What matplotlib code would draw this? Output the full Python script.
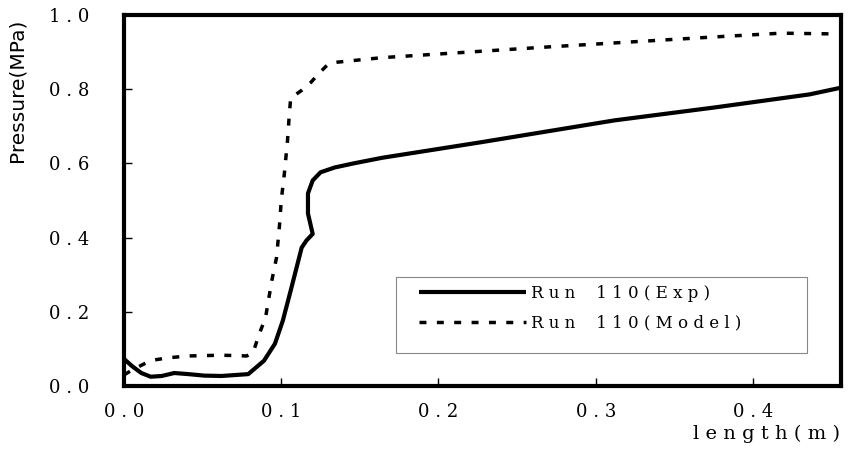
import matplotlib
matplotlib.use("Agg")
import matplotlib.pyplot as plt
from matplotlib.patches import Rectangle
from matplotlib.ticker import FixedLocator, FuncFormatter

# Run 110, experimental pressure along the length
exp_x = [0.000, 0.005, 0.011, 0.017, 0.024, 0.032, 0.041, 0.051, 0.062, 0.079,
         0.089, 0.096, 0.101, 0.106, 0.113, 0.116, 0.120, 0.117, 0.117, 0.120,
         0.125, 0.134, 0.146, 0.164, 0.227, 0.312, 0.376, 0.436, 0.457]
exp_y = [0.073, 0.054, 0.035, 0.025, 0.027, 0.035, 0.032, 0.028, 0.027, 0.032,
         0.068, 0.114, 0.176, 0.257, 0.373, 0.392, 0.410, 0.465, 0.519, 0.554,
         0.576, 0.589, 0.600, 0.615, 0.657, 0.716, 0.751, 0.786, 0.805]

# Run 110, model
mod_x = [0.000, 0.006, 0.013, 0.019, 0.028, 0.041, 0.062, 0.078, 0.082, 0.086,
         0.090, 0.094, 0.097, 0.099, 0.100, 0.102, 0.104, 0.105, 0.106, 0.113,
         0.119, 0.124, 0.130, 0.136, 0.164, 0.270, 0.376, 0.418, 0.452]
mod_y = [0.030, 0.045, 0.060, 0.070, 0.076, 0.081, 0.083, 0.081, 0.089, 0.140,
         0.184, 0.284, 0.346, 0.438, 0.500, 0.573, 0.662, 0.724, 0.776, 0.797,
         0.819, 0.843, 0.868, 0.873, 0.885, 0.914, 0.941, 0.951, 0.949]

x_ticks = [0.0, 0.1, 0.2, 0.3, 0.4]
y_ticks = [0.0, 0.2, 0.4, 0.6, 0.8, 1.0]
series_names = ["Run 110(Exp)", "Run 110(Model)"]

def spaced(v, pos=None):
    return " ".join("%.1f" % v)

def wide(s):
    # letter-spaced text, like the fixed-pitch font of the original
    words = [" ".join(w) for w in s.split(" ")]
    return "    ".join(words)

fig = plt.figure(figsize=(8.52, 4.54), dpi=100)
ax = fig.add_axes([124 / 852, 1 - 386 / 454, 717 / 852, 371 / 454])

ax.plot(exp_x, exp_y, color="black", lw=3.0, solid_capstyle="butt",
        label=wide(series_names[0]))
ax.plot(mod_x, mod_y, color="black", lw=2.5, linestyle=(0, (2, 3)),
        label=wide(series_names[1]))

ax.set_xlim(0, 0.456)
ax.set_ylim(0, 1.0)

ax.xaxis.set_major_locator(FixedLocator(x_ticks))
ax.yaxis.set_major_locator(FixedLocator(y_ticks))
ax.xaxis.set_major_formatter(FuncFormatter(spaced))
ax.yaxis.set_major_formatter(FuncFormatter(spaced))
ax.tick_params(axis="both", direction="in", length=6, width=1, color="black",
               labelsize=13, labelfontfamily="DejaVu Serif")
ax.tick_params(axis="y", pad=25)
ax.tick_params(axis="x", pad=12)
for s in ax.spines.values():
    s.set_linewidth(3)

# legend box
ax.add_patch(Rectangle((0.380, 0.089), 0.572, 0.205, transform=ax.transAxes,
                       fill=False, ec="#888888", lw=0.8, zorder=4))
leg = ax.legend(loc="upper left", bbox_to_anchor=(0.412, 0.272),
                frameon=False, borderpad=0, borderaxespad=0,
                handlelength=6.4, handletextpad=0.3, labelspacing=0.75,
                prop={"family": "DejaVu Serif", "size": 12})

fig.text(840 / 852, 1 - 439 / 454, "l e n g t h ( m )", ha="right", va="baseline",
         fontsize=14, family="DejaVu Serif")
fig.text(17 / 852, 1 - 90 / 454, "Pressure(MPa)", ha="center", va="center",
         rotation=90, fontsize=14.5, family="DejaVu Sans")

fig.savefig("out.png", dpi=100)
